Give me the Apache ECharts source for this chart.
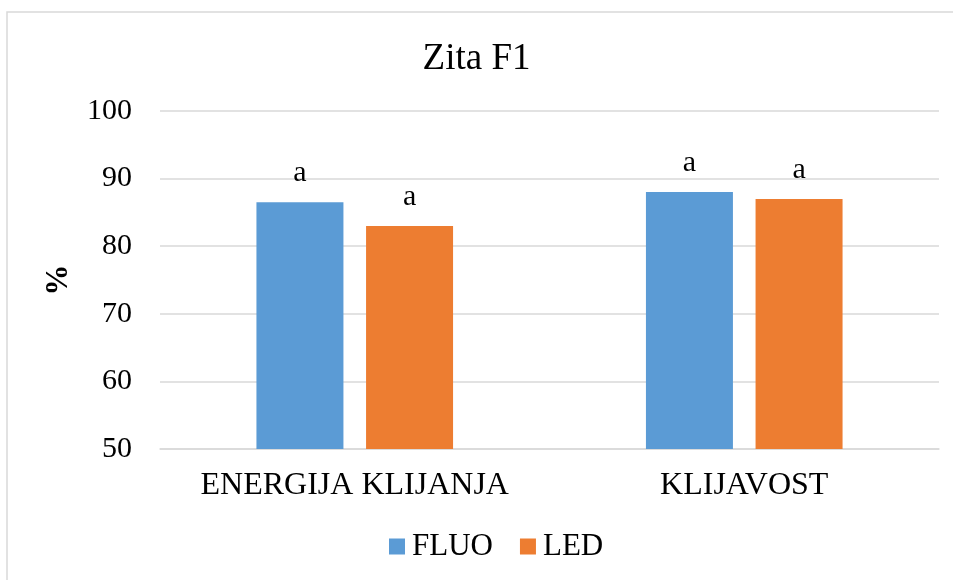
<!DOCTYPE html>
<html>
<head>
<meta charset="utf-8">
<script src="https://cdn.jsdelivr.net/npm/echarts@6/dist/echarts.min.js"></script>
<style>
html,body{margin:0;padding:0;background:#fff;}
#chart{width:953px;height:580px;}
</style>
</head>
<body>
<div id="chart"></div>
<script>
var categories = ['ENERGIJA KLIJANJA', 'KLIJAVOST'];
var fluo = [86.5, 88.0];
var led = [83.0, 87.0];
var sigLabels = ['a', 'a'];
var seriesNames = ['FLUO', 'LED'];

var FONT = '"Liberation Serif", "Times New Roman", serif';
var chart = echarts.init(document.getElementById('chart'));

function labelCfg() {
  return {
    show: true,
    position: 'top',
    distance: 14,
    color: '#000',
    fontFamily: FONT,
    fontSize: 30,
    formatter: function (p) { return sigLabels[p.dataIndex]; }
  };
}

chart.setOption({
  animation: false,
  backgroundColor: '#fff',
  graphic: [{
    type: 'rect',
    shape: { x: 7, y: 12, width: 1000, height: 1000 },
    style: { fill: 'none', stroke: '#d9d9d9', lineWidth: 1.5 },
    silent: true
  }],
  title: {
    text: 'Zita F1',
    left: 'center',
    top: 36,
    textStyle: { fontFamily: FONT, fontSize: 37, fontWeight: 'normal', color: '#000' }
  },
  legend: {
    data: seriesNames,
    bottom: 13,
    left: 384,
    icon: 'rect',
    itemWidth: 16,
    itemHeight: 16,
    itemGap: 27,
    textStyle: { fontFamily: FONT, fontSize: 31, color: '#000', padding: [0, 0, 0, 2] }
  },
  grid: { left: 160, right: 14, top: 111, bottom: 131 },
  xAxis: {
    type: 'category',
    data: categories,
    axisLine: { lineStyle: { color: '#d9d9d9', width: 1.5 } },
    axisTick: { show: false },
    axisLabel: { interval: 0, fontFamily: FONT, fontSize: 32, color: '#000', margin: 21 }
  },
  yAxis: {
    type: 'value',
    min: 50,
    max: 100,
    interval: 10,
    name: '%',
    nameLocation: 'middle',
    nameGap: 86,
    nameRotate: 90,
    nameTextStyle: { fontFamily: FONT, fontSize: 31, fontWeight: 'bold', color: '#000' },
    axisLine: { show: false },
    axisTick: { show: false },
    axisLabel: { fontFamily: FONT, fontSize: 30, color: '#000', margin: 28 },
    splitLine: { lineStyle: { color: '#d9d9d9', width: 1.5 } }
  },
  series: [
    {
      name: seriesNames[0],
      type: 'bar',
      data: fluo,
      barWidth: 87,
      barGap: '26%',
      itemStyle: { color: '#5B9BD5' },
      label: labelCfg()
    },
    {
      name: seriesNames[1],
      type: 'bar',
      data: led,
      barWidth: 87,
      barGap: '26%',
      itemStyle: { color: '#ED7D31' },
      label: labelCfg()
    }
  ]
});
</script>
</body>
</html>
